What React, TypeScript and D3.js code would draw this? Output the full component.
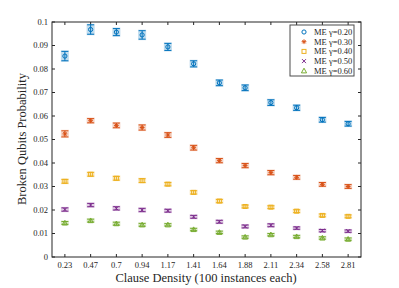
import React, { useRef, useEffect } from 'react';
import * as d3 from 'd3';

const densities = ['0.23', '0.47', '0.7', '0.94', '1.17', '1.41', '1.64', '1.88', '2.11', '2.34', '2.58', '2.81'];
const yTicks = [0, 0.01, 0.02, 0.03, 0.04, 0.05, 0.06, 0.07, 0.08, 0.09, 0.1];

const gamma020 = [0.0855, 0.0968, 0.0957, 0.0945, 0.0894, 0.0822, 0.0741, 0.0720, 0.0657, 0.0635, 0.0584, 0.0567];
const gamma030 = [0.0524, 0.0580, 0.0560, 0.0551, 0.0519, 0.0465, 0.0410, 0.0389, 0.0359, 0.0339, 0.0309, 0.0300];
const gamma040 = [0.0322, 0.0352, 0.0335, 0.0325, 0.0310, 0.0275, 0.0238, 0.0215, 0.0212, 0.0195, 0.0177, 0.0173];
const gamma050 = [0.0202, 0.0221, 0.0207, 0.0200, 0.0197, 0.0171, 0.0150, 0.0130, 0.0135, 0.0123, 0.0112, 0.0110];
const gamma060 = [0.0145, 0.0155, 0.0142, 0.0137, 0.0137, 0.0117, 0.0105, 0.0085, 0.0095, 0.0087, 0.0081, 0.0076];

const err020 = [0.0020, 0.0020, 0.0015, 0.0018, 0.0015, 0.0013, 0.0012, 0.0012, 0.0012, 0.0011, 0.0010, 0.0010];
const err030 = [0.0013, 0.0009, 0.0010, 0.0011, 0.0010, 0.0010, 0.0009, 0.0009, 0.0009, 0.0008, 0.0008, 0.0008];
const err040 = [0.0008, 0.0008, 0.0008, 0.0008, 0.0007, 0.0007, 0.0007, 0.0006, 0.0006, 0.0006, 0.0006, 0.0006];
const err050 = [0.0007, 0.0007, 0.0007, 0.0007, 0.0006, 0.0006, 0.0006, 0.0006, 0.0006, 0.0005, 0.0005, 0.0005];
const err060 = [0.0006, 0.0006, 0.0006, 0.0006, 0.0005, 0.0005, 0.0005, 0.0005, 0.0005, 0.0005, 0.0005, 0.0005];

const seriesNames = ['ME γ=0.20', 'ME γ=0.30', 'ME γ=0.40', 'ME γ=0.50', 'ME γ=0.60'];
const seriesValues = [gamma020, gamma030, gamma040, gamma050, gamma060];
const seriesErrors = [err020, err030, err040, err050, err060];
const colors = ['#0072BD', '#D95319', '#EDB120', '#7E2F8E', '#77AC30'];
const shapes = ['circle', 'star', 'square', 'cross', 'triangle'];

function drawMarker(g, shape, x, y, color) {
  if (shape === 'circle') {
    g.append('circle').attr('cx', x).attr('cy', y).attr('r', 2.1)
      .attr('fill', 'none').attr('stroke', color).attr('stroke-width', 1);
  } else if (shape === 'square') {
    g.append('rect').attr('x', x - 2).attr('y', y - 2).attr('width', 4).attr('height', 4)
      .attr('fill', 'none').attr('stroke', color).attr('stroke-width', 1);
  } else if (shape === 'triangle') {
    const s = 2.6;
    g.append('path').attr('d', `M${x},${y - s}L${x + s},${y + s * 0.8}L${x - s},${y + s * 0.8}Z`)
      .attr('fill', 'none').attr('stroke', color).attr('stroke-width', 1);
  } else if (shape === 'cross') {
    const s = 2;
    g.append('path').attr('d', `M${x - s},${y - s}L${x + s},${y + s}M${x - s},${y + s}L${x + s},${y - s}`)
      .attr('stroke', color).attr('stroke-width', 1);
  } else {
    const s = 2.4;
    g.append('path').attr('d', `M${x - s},${y}L${x + s},${y}M${x},${y - s}L${x},${y + s}M${x - s * 0.7},${y - s * 0.7}L${x + s * 0.7},${y + s * 0.7}M${x - s * 0.7},${y + s * 0.7}L${x + s * 0.7},${y - s * 0.7}`)
      .attr('stroke', color).attr('stroke-width', 1);
  }
}

function ErrorChart() {
  const ref = useRef(null);

  useEffect(() => {
    const left = 52, right = 361, top = 22, bottom = 257;
    const svg = d3.select(ref.current);
    svg.selectAll('*').remove();

    const x = d3.scalePoint().domain(densities).range([left, right]).padding(0.5);
    const y = d3.scaleLinear().domain([0, 0.1]).range([bottom, top]);

    svg.append('rect').attr('width', 399).attr('height', 288).attr('fill', '#fff');

    const axisColor = '#262626';
    const font = '"Liberation Serif", "Times New Roman", serif';

    // box
    svg.append('rect').attr('x', left).attr('y', top).attr('width', right - left).attr('height', bottom - top)
      .attr('fill', 'none').attr('stroke', axisColor).attr('stroke-width', 1);

    // ticks
    densities.forEach((d) => {
      const px = x(d);
      svg.append('line').attr('x1', px).attr('x2', px).attr('y1', bottom).attr('y2', bottom - 3).attr('stroke', axisColor);
      svg.append('line').attr('x1', px).attr('x2', px).attr('y1', top).attr('y2', top + 3).attr('stroke', axisColor);
      svg.append('text').attr('x', px).attr('y', 268).attr('text-anchor', 'middle')
        .attr('font-family', font).attr('font-size', 8.5).attr('fill', axisColor).text(d);
    });
    yTicks.forEach((t) => {
      const py = y(t);
      svg.append('line').attr('x1', left).attr('x2', left + 3).attr('y1', py).attr('y2', py).attr('stroke', axisColor);
      svg.append('line').attr('x1', right).attr('x2', right - 3).attr('y1', py).attr('y2', py).attr('stroke', axisColor);
      svg.append('text').attr('x', 48).attr('y', py + 2.8).attr('text-anchor', 'end')
        .attr('font-family', font).attr('font-size', 8.5).attr('fill', axisColor).text(d3.format('~g')(t));
    });

    svg.append('text').attr('x', 206).attr('y', 281.5).attr('text-anchor', 'middle')
      .attr('font-family', font).attr('font-size', 12.5).attr('fill', axisColor).text('Clause Density (100 instances each)');
    svg.append('text').attr('transform', `translate(26,139) rotate(-90)`).attr('text-anchor', 'middle')
      .attr('font-family', font).attr('font-size', 12.5).attr('fill', axisColor).text('Broken Qubits Probability');

    // series
    seriesValues.forEach((vals, si) => {
      const g = svg.append('g');
      const c = colors[si];
      vals.forEach((v, i) => {
        const px = x(densities[i]);
        const e = seriesErrors[si][i];
        const y1 = y(v + e), y2 = y(v - e);
        g.append('rect').attr('x', px - 4).attr('y', y1 - 1).attr('width', 8).attr('height', y2 - y1 + 2)
          .attr('fill', c).attr('opacity', 0.25);
        g.append('line').attr('x1', px).attr('x2', px).attr('y1', y1).attr('y2', y2).attr('stroke', c).attr('stroke-width', 1);
        g.append('line').attr('x1', px - 3.5).attr('x2', px + 3.5).attr('y1', y1).attr('y2', y1).attr('stroke', c).attr('stroke-width', 1);
        g.append('line').attr('x1', px - 3.5).attr('x2', px + 3.5).attr('y1', y2).attr('y2', y2).attr('stroke', c).attr('stroke-width', 1);
        drawMarker(g, shapes[si], px, y(v), c);
      });
    });

    // legend
    const lg = svg.append('g');
    lg.append('rect').attr('x', 290).attr('y', 25).attr('width', 64).attr('height', 51)
      .attr('fill', '#fff').attr('stroke', '#4d4d4d').attr('stroke-width', 1);
    seriesNames.forEach((n, i) => {
      const ly = 32 + i * 9.7;
      drawMarker(lg, shapes[i], 304, ly, colors[i]);
      lg.append('text').attr('x', 314).attr('y', ly + 2.8).attr('font-family', font).attr('font-size', 8.5)
        .attr('fill', axisColor).text(n);
    });
  }, []);

  return <svg ref={ref} width={399} height={288} style={{ position: 'absolute', left: 0, top: 0 }} />;
}

export default function App() {
  return <ErrorChart />;
}
